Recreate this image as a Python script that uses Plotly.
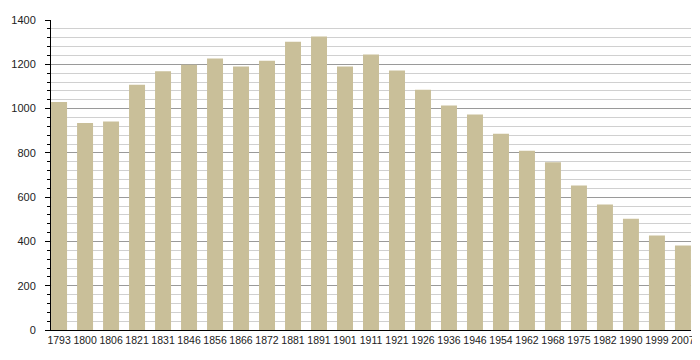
import plotly.graph_objects as go

years = ["1793", "1800", "1806", "1821", "1831", "1846", "1856", "1866", "1872", "1881",
         "1891", "1901", "1911", "1921", "1926", "1936", "1946", "1954", "1962", "1968",
         "1975", "1982", "1990", "1999", "2007"]
population = [1030, 935, 942, 1108, 1168, 1198, 1226, 1190, 1216, 1302,
              1326, 1190, 1244, 1172, 1085, 1014, 973, 886, 810, 758,
              653, 567, 502, 427, 382]
y_ticks = [0, 200, 400, 600, 800, 1000, 1200, 1400]

fig = go.Figure(go.Bar(
    x=years, y=population,
    marker=dict(color="#c9bf99", line=dict(width=0)),
    hoverinfo="x+y",
))

fig.update_layout(
    width=692, height=352,
    margin=dict(l=43, r=9, t=12, b=30),
    paper_bgcolor="white", plot_bgcolor="white",
    bargap=0.385,
    showlegend=False,
    font=dict(family="Liberation Sans, Arial, sans-serif", size=11, color="#222222"),
    xaxis=dict(
        type="category",
        range=[-0.31, 24.31],
        showgrid=False,
        showline=True, linecolor="#000000", linewidth=1,
        ticks="", tickangle=0, tickfont=dict(size=10.5),
        automargin=False,
        fixedrange=True,
    ),
    yaxis=dict(
        range=[0, 1400],
        tickvals=y_ticks,
        showgrid=True, gridcolor="#9a9a9a", gridwidth=1,
        showline=True, linecolor="#000000", linewidth=1,
        ticks="outside", ticklen=5, tickcolor="#000000", tickwidth=1,
        ticklabelstandoff=7, tickfont=dict(size=11),
        zeroline=False, automargin=False,
        minor=dict(dtick=40, tick0=0, showgrid=True, gridcolor="#d0d0d0", gridwidth=1,
                   ticks="outside", ticklen=3, tickcolor="#000000", tickwidth=1),
        fixedrange=True,
    ),
)

fig.write_html("out.html")
